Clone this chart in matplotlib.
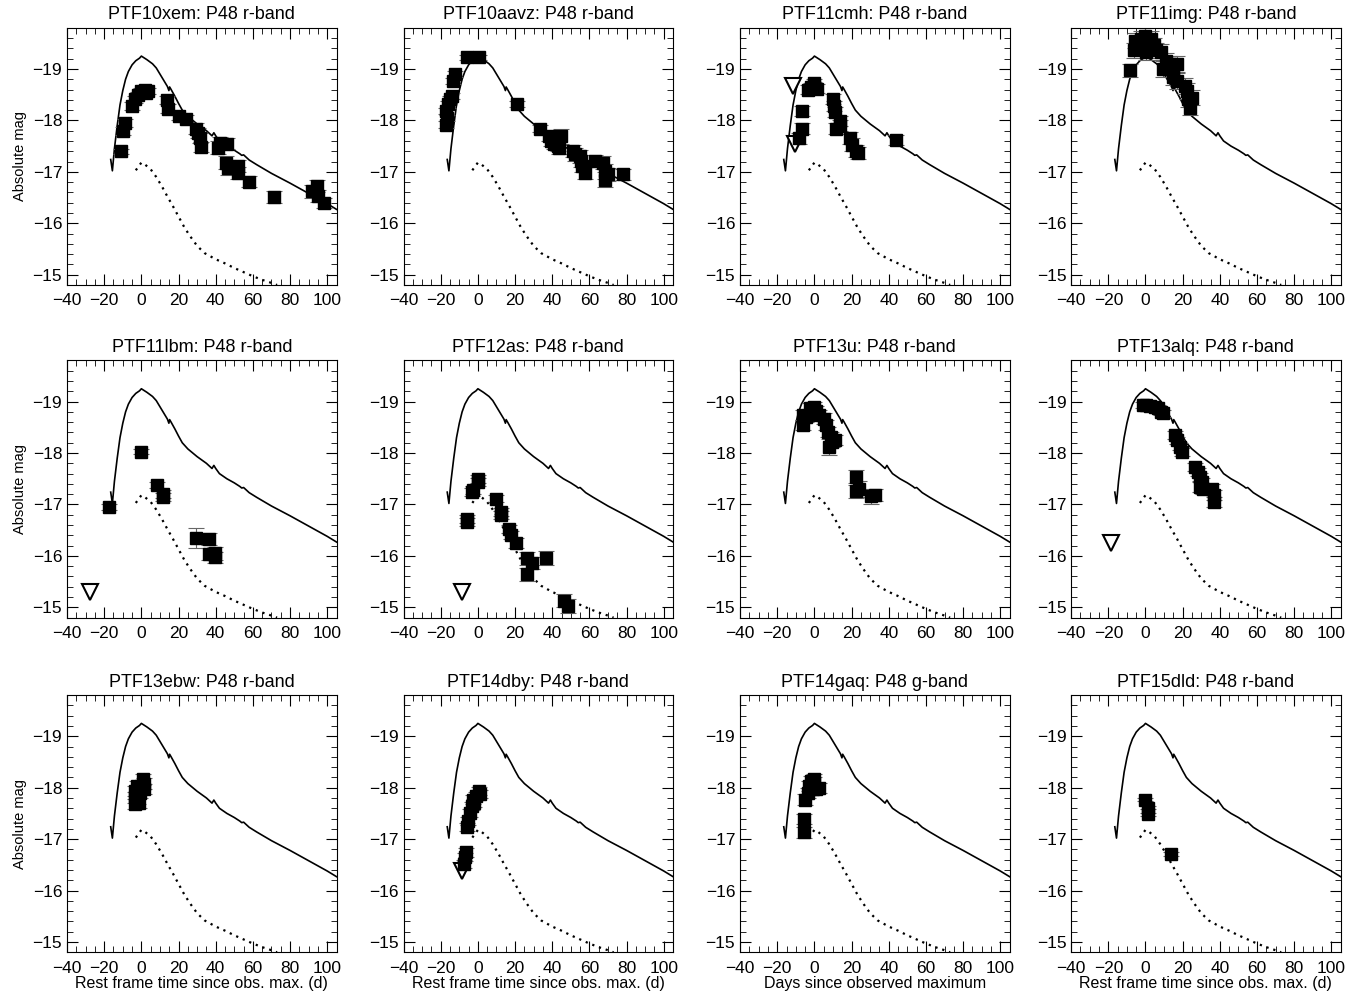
import matplotlib.pyplot as plt
from matplotlib.ticker import MultipleLocator

plt.rcParams['font.family'] = ['Liberation Sans', 'DejaVu Sans']

# template light curve (solid) and faint template (dotted)
tmpl_t = [-16.5, -15.6, -14.5, -13.0, -11.5, -10.0, -8.5, -7.0, -5.0, -3.0, -1.0, 0.0, 3.0, 6.0, 8.0,
          10.0, 12.0, 14.0, 14.8, 15.2, 16.0, 18.0, 20.0, 22.0, 25.0, 30.0, 35.0, 38.0, 39.0, 40.0,
          42.0, 46.0, 50.0, 53.0, 54.0, 55.0, 58.0, 62.0, 70.0, 80.0, 90.0, 100.0, 105.0]
tmpl_m = [-17.24, -17.02, -17.45, -17.9, -18.3, -18.58, -18.8, -18.95, -19.08, -19.16, -19.21, -19.25,
          -19.18, -19.1, -19.02, -18.9, -18.78, -18.66, -18.58, -18.65, -18.6, -18.47, -18.33, -18.2,
          -18.08, -17.93, -17.8, -17.7, -17.76, -17.7, -17.6, -17.5, -17.42, -17.35, -17.32, -17.33,
          -17.23, -17.14, -16.97, -16.78, -16.58, -16.38, -16.27]
faint_t = [-3, 0, 2, 5, 8, 11, 14, 17, 20, 23, 26, 30, 34, 40, 45, 50, 55, 60, 65, 70, 73]
faint_m = [-17.03, -17.18, -17.14, -17.05, -16.9, -16.72, -16.52, -16.33, -16.13, -15.93, -15.76,
           -15.56, -15.42, -15.3, -15.22, -15.13, -15.05, -14.97, -14.9, -14.84, -14.8]

names = ['PTF10xem', 'PTF10aavz', 'PTF11cmh', 'PTF11img', 'PTF11lbm', 'PTF12as',
         'PTF13u', 'PTF13alq', 'PTF13ebw', 'PTF14dby', 'PTF14gaq', 'PTF15dld']
bands = ['r', 'r', 'r', 'r', 'r', 'r', 'r', 'r', 'r', 'r', 'g', 'r']
xlabels = ['Rest frame time since obs. max. (d)', 'Rest frame time since obs. max. (d)',
           'Days since observed maximum', 'Rest frame time since obs. max. (d)']

# detections: time, mag, error
t_10xem = [-11, -9.8, -8.9, -4.8, -3.6, -1.8, 0, 1.8, 3.6, 2.7, 13.9, 14.3, 20.5, 23.8, 29.5, 30.4,
           31.8, 32.1, 41, 42.5, 45.9, 45.5, 46.4, 51.8, 51.8, 57.7, 71.6, 92, 94.6, 95.2, 98.2]
m_10xem = [-17.4, -17.79, -17.95, -18.28, -18.41, -18.5, -18.57, -18.6, -18.57, -18.54, -18.4, -18.23,
           -18.08, -18.03, -17.84, -17.75, -17.66, -17.48, -17.47, -17.56, -17.55, -17.18, -17.08,
           -17.11, -16.98, -16.81, -16.51, -16.62, -16.72, -16.53, -16.4]
e_10xem = [0.05, 0.08, 0.08, 0.07, 0.07, 0.06, 0.06, 0.06, 0.06, 0.06, 0.08, 0.08, 0.07, 0.07, 0.1,
           0.1, 0.1, 0.1, 0.12, 0.12, 0.1, 0.12, 0.15, 0.12, 0.12, 0.1, 0.12, 0.12, 0.12, 0.12, 0.1]

t_10aavz = [-17.2, -16.8, -17.2, -16.3, -15, -14.1, -13.2, -12.3, -5.6, 0.4, 21.2, 33.3, 38.4, 39.3,
            40.8, 42.9, 44.7, 43.8, 51, 52.5, 54.7, 55.6, 56, 57.8, 62.9, 67.4, 68.3, 68.3, 70, 77.9]
m_10aavz = [-17.92, -18.05, -18.18, -18.31, -18.41, -18.47, -18.77, -18.9, -19.23, -19.23, -18.32,
            -17.84, -17.69, -17.6, -17.55, -17.51, -17.69, -17.47, -17.4, -17.34, -17.3, -17.21,
            -17.11, -16.98, -17.21, -17.18, -17.01, -16.85, -16.95, -16.95]
e_10aavz = [0.06, 0.06, 0.06, 0.06, 0.06, 0.06, 0.06, 0.06, 0.05, 0.05, 0.06, 0.07, 0.1, 0.1, 0.1,
            0.1, 0.14, 0.12, 0.12, 0.12, 0.12, 0.12, 0.12, 0.12, 0.12, 0.12, 0.15, 0.15, 0.12, 0.1]

t_11cmh = [-6.7, -6.7, -8.1, -3.6, -1.8, 0, 1.3, -0.5, 9.9, 10.3, 10.8, 11.7, 13.5, 13.5, 18.9, 20.4,
           22.5, 23.4, 43.8]
m_11cmh = [-18.18, -17.84, -17.65, -18.6, -18.64, -18.67, -18.62, -18.73, -18.41, -18.28, -18.16,
           -17.84, -17.99, -17.9, -17.66, -17.53, -17.4, -17.37, -17.62]
e_11cmh = [0.1, 0.1, 0.1, 0.08, 0.08, 0.08, 0.08, 0.08, 0.1, 0.1, 0.1, 0.1, 0.1, 0.1, 0.12, 0.12,
           0.12, 0.12, 0.1]

t_11img = [-8.5, -6, -5.6, -3.3, -2.5, 0, 1.3, 3.1, 4.5, 0.4, 5.8, 8.2, 9.4, 11.2, 13, 14.8, 16.7,
           14.8, 16.7, 21.2, 22.1, 23, 23.9, 24.8]
m_11img = [-18.97, -19.36, -19.55, -19.49, -19.59, -19.65, -19.52, -19.59, -19.46, -19.33, -19.36,
           -19.33, -19.0, -19.16, -19.1, -19.0, -19.1, -18.84, -18.77, -18.67, -18.57, -18.41,
           -18.25, -18.44]
e_11img = [0.12, 0.15, 0.15, 0.15, 0.15, 0.15, 0.15, 0.15, 0.15, 0.15, 0.15, 0.15, 0.15, 0.15,
           0.15, 0.15, 0.15, 0.15, 0.15, 0.15, 0.15, 0.15, 0.15, 0.15]

t_11lbm = [-17.3, 0, 8.6, 11.6, 11.6, 29.5, 36.3, 36.3, 39.8, 39.8]
m_11lbm = [-16.95, -18.03, -17.38, -17.2, -17.14, -16.35, -16.33, -16.04, -16.05, -15.97]
e_11lbm = [0.05, 0.05, 0.06, 0.08, 0.08, 0.2, 0.12, 0.12, 0.12, 0.1]

t_12as = [-5.6, -5.6, -3.3, -2.5, 0, 0, 10, 12.5, 12.5, 16.7, 17.6, 20.7, 26.3, 29.3, 26.3, 36.6,
          46.2, 48.7]
m_12as = [-16.66, -16.72, -17.24, -17.28, -17.5, -17.44, -17.11, -16.85, -16.8, -16.52, -16.4,
          -16.25, -15.95, -15.86, -15.64, -15.96, -15.13, -15.03]
e_12as = [0.08, 0.08, 0.08, 0.08, 0.08, 0.08, 0.07, 0.08, 0.08, 0.08, 0.08, 0.1, 0.12, 0.12, 0.12,
          0.14, 0.13, 0.13]

t_13u = [-5.9, -5.9, -4.5, -2.2, 0, -1.2, 1, 2.7, 5.4, 6.3, 7.2, 9, 9.5, 7.7, 10.8, 22.2, 22.5,
         23.8, 30.3, 32.4]
m_13u = [-18.74, -18.54, -18.7, -18.87, -18.9, -18.77, -18.81, -18.74, -18.67, -18.54, -18.41,
         -18.31, -18.21, -18.12, -18.25, -17.53, -17.27, -17.3, -17.16, -17.18]
e_13u = [0.1, 0.1, 0.1, 0.1, 0.1, 0.1, 0.1, 0.1, 0.1, 0.1, 0.1, 0.1, 0.1, 0.15, 0.1, 0.15, 0.15,
         0.15, 0.15, 0.12]

t_13alq = [-1.4, 0.4, 2.5, 4.9, 6.7, 8.5, 9.4, 15.8, 16.7, 18.5, 19.4, 26.6, 28.1, 29.3, 30.2, 29.3,
           31.2, 35.7, 36.6, 36.6]
m_13alq = [-18.93, -18.93, -18.91, -18.9, -18.87, -18.8, -18.77, -18.35, -18.25, -18.12, -18.02,
           -17.73, -17.63, -17.53, -17.44, -17.34, -17.3, -17.3, -17.18, -17.05]
e_13alq = [0.06, 0.06, 0.06, 0.06, 0.06, 0.06, 0.06, 0.07, 0.07, 0.07, 0.07, 0.08, 0.08, 0.08,
           0.08, 0.1, 0.1, 0.1, 0.1, 0.1]

t_13ebw = [-3.2, -3.2, -3.2, -2.5, -2.0, -0.9, 0, 0.9, 1.2, 1.6, -1.5]
m_13ebw = [-17.68, -17.81, -17.94, -18.03, -17.79, -17.9, -18.03, -18.16, -18.08, -17.98, -17.7]
e_13ebw = [0.1, 0.1, 0.1, 0.1, 0.1, 0.1, 0.1, 0.1, 0.1, 0.1, 0.1]

t_14dby = [-6.9, -7.4, -6.5, -5.6, -5.1, -4.2, -3.3, -2.4, -1.0, 0.4, 0.9, -2.0]
m_14dby = [-16.65, -16.52, -16.74, -17.23, -17.35, -17.51, -17.65, -17.77, -17.84, -17.94, -17.87,
           -17.7]
e_14dby = [0.08, 0.08, 0.08, 0.08, 0.08, 0.08, 0.08, 0.08, 0.08, 0.08, 0.08, 0.08]

t_14gaq = [-5.4, -5.4, -4.9, -3.6, -2.7, -1.8, -0.9, 0, 1.0, 2.3, 0]
m_14gaq = [-17.39, -17.13, -17.77, -17.9, -18.03, -18.13, -17.97, -18.1, -17.97, -18.0, -18.16]
e_14gaq = [0.1, 0.1, 0.1, 0.1, 0.1, 0.1, 0.1, 0.1, 0.1, 0.1, 0.1]

t_15dld = [0, 1.3, 1.3, 13.6]
m_15dld = [-17.77, -17.61, -17.48, -16.71]
e_15dld = [0.03, 0.03, 0.03, 0.03]

det_t = [t_10xem, t_10aavz, t_11cmh, t_11img, t_11lbm, t_12as, t_13u, t_13alq, t_13ebw, t_14dby,
         t_14gaq, t_15dld]
det_m = [m_10xem, m_10aavz, m_11cmh, m_11img, m_11lbm, m_12as, m_13u, m_13alq, m_13ebw, m_14dby,
         m_14gaq, m_15dld]
det_e = [e_10xem, e_10aavz, e_11cmh, e_11img, e_11lbm, e_12as, e_13u, e_13alq, e_13ebw, e_14dby,
         e_14gaq, e_15dld]

# upper limits (open triangles)
lim_t = {'PTF11cmh': [-11.7, -10.3], 'PTF11lbm': [-27.7], 'PTF12as': [-8.7],
         'PTF13alq': [-18.7], 'PTF14dby': [-8.7]}
lim_m = {'PTF11cmh': [-18.67, -17.55], 'PTF11lbm': [-15.29], 'PTF12as': [-15.29],
         'PTF13alq': [-16.26], 'PTF14dby': [-16.39]}

fig = plt.figure(figsize=(13.68, 9.93), dpi=100)
lefts = [0.049, 0.295, 0.541, 0.783]
bottoms = [0.713, 0.378, 0.041]
w, h = 0.197, 0.259

for i, name in enumerate(names):
    r, c = divmod(i, 4)
    ax = fig.add_axes([lefts[c], bottoms[r], w, h])
    ax.plot(tmpl_t, tmpl_m, color='black', lw=1.2)
    ax.plot(faint_t, faint_m, color='black', lw=1.6, linestyle=(0, (1, 2.2)))
    ax.errorbar(det_t[i], det_m[i], yerr=det_e[i], fmt='s', color='black', ms=8.5,
                ecolor='0.4', elinewidth=0.8, capsize=5.5, capthick=0.8)
    if name in lim_t:
        ax.plot(lim_t[name], lim_m[name], 'v', mfc='white', mec='black', mew=1.5, ms=11)
    ax.set_xlim(-40, 105)
    ax.set_ylim(-14.8, -19.8)
    ax.xaxis.set_major_locator(MultipleLocator(20))
    ax.xaxis.set_minor_locator(MultipleLocator(5))
    ax.yaxis.set_major_locator(MultipleLocator(1))
    ax.yaxis.set_minor_locator(MultipleLocator(0.2))
    ax.tick_params(which='both', direction='in', top=True, right=True, labelsize=12.5)
    ax.tick_params(axis='x', pad=6)
    ax.tick_params(which='major', length=8, width=0.8)
    ax.tick_params(which='minor', length=4, width=0.6)
    ax.set_title(f'{name}: P48 {bands[i]}-band', fontsize=13, pad=6)
    if c == 0:
        ax.set_ylabel('Absolute mag', fontsize=10.5)
    if r == 2:
        ax.set_xlabel(xlabels[c], fontsize=11.5, labelpad=0)

plt.savefig('out.png')
